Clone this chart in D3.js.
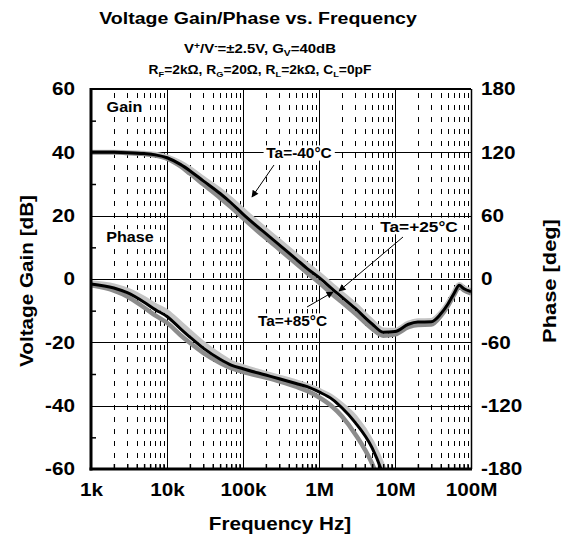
<!DOCTYPE html>
<html>
<head>
<meta charset="utf-8">
<script src="https://cdn.jsdelivr.net/npm/d3@7"></script>
<style>
  body { margin: 0; background: #fff; }
  text { font-family: "Liberation Sans", Arial, sans-serif; font-weight: bold; fill: #000; }
</style>
</head>
<body>
<script>
// chart values
var freqs = [1e3, 2e3, 3e3, 5e3, 7e3, 1e4, 1.5e4, 2e4, 3e4, 5e4, 7e4, 1e5, 2e5, 3e5, 5e5, 7e5,
             1e6, 1.5e6, 2e6, 3e6, 5e6, 7e6, 1e7, 1.5e7, 2e7, 3e7, 4e7, 5e7, 6e7, 7e7, 8e7, 1e8]

var gain25 = [40, 40, 39.9, 39.6, 39.2, 38.3, 36.2, 34.2, 31, 27, 24, 20.5, 14.3, 10.8, 6.3, 3.3,
              0.5, -3.2, -5.7, -9.3, -14.2, -16.8, -16.6, -14.3, -13.6, -13.5, -11, -7.8, -4.5, -2, -3, -4]
var gain85 = [40, 40, 39.8, 39.5, 39, 38, 35.6, 33.3, 29.9, 25.6, 22.6, 19.2, 12.9, 9.4, 4.9, 1.9,
              -1.1, -4.8, -7.3, -10.9, -15.7, -17.9, -17.5, -15.2, -14.5, -14.4, -11.7, -8.4, -5, -2.5, -3.5, -4.5]
var gainM40 = [40, 40, 39.9, 39.7, 39.4, 38.6, 36.7, 34.9, 31.8, 28, 25.1, 21.8, 15.5, 12, 7.5, 4.5,
               1.6, -2.1, -4.6, -8.2, -13.3, -16.1, -16.2, -13.9, -13.2, -13.1, -10.7, -7.5, -4.2, -1.7, -2.7, -3.7]

var phaseFreqs = [1e3, 2e3, 3e3, 5e3, 7e3, 1e4, 1.5e4, 2e4, 3e4, 5e4, 7e4, 1e5, 2e5, 3e5, 5e5, 7e5,
                  1e6, 1.5e6, 2e6, 3e6, 5e6, 7e6, 1e7]
var phase25 = [-4.7, -8.5, -13, -22, -29, -35.5, -47, -55, -65.5, -76, -81.5, -85, -91, -94.5, -99, -102,
               -107, -114, -122, -136, -160, -186, -225]
var phase85 = [-6, -11, -16.5, -27, -34.5, -41.5, -53, -60.5, -70, -79.5, -84.5, -88, -93.5, -97, -102, -106,
               -112, -121, -130, -147, -175, -203, -240]
var phaseM40 = [-3.5, -6.5, -10.5, -18.5, -25, -31, -42, -50, -61, -72.5, -79, -83, -89.5, -93, -97.5, -101,
                -105.5, -112, -119, -131, -155, -178, -210]

var decadeTicks = [1e3, 1e4, 1e5, 1e6, 1e7, 1e8]
var decadeLabels = ["1k", "10k", "100k", "1M", "10M", "100M"]
var gainTicks = [-60, -40, -20, 0, 20, 40, 60]
var gainMinor = [-50, -30, -10, 10, 30, 50]
var phaseTicks = [-180, -120, -60, 0, 60, 120, 180]

var width = 572, height = 538
var plot = {left: 91, right: 471, top: 89, bottom: 469}
var wide = 1.15   // the original lettering is a bit stretched sideways

var svg = d3.select("body").append("svg")
  .attr("width", width)
  .attr("height", height)

var x = d3.scaleLog().domain([1e3, 1e8]).range([plot.left, plot.right])
var yG = d3.scaleLinear().domain([-60, 60]).range([plot.bottom, plot.top])
var yP = d3.scaleLinear().domain([-180, 180]).range([plot.bottom, plot.top])

// minor frequencies 2..9 in each decade
var minorFreqs = []
decadeTicks.slice(0, 5).forEach(function(d) {
  for (var k = 2; k <= 9; k++) minorFreqs.push(d * k)
})

// grid
var grid = svg.append("g")
grid.selectAll("line.minor")
  .data(minorFreqs)
  .enter().append("line")
  .attr("x1", function(d) { return Math.round(x(d)) + 0.5 })
  .attr("x2", function(d) { return Math.round(x(d)) + 0.5 })
  .attr("y1", plot.top + 4)
  .attr("y2", plot.bottom)
  .attr("stroke", "#000")
  .attr("stroke-width", 1)
  .attr("stroke-dasharray", "5,7")

grid.selectAll("line.vmaj")
  .data(decadeTicks)
  .enter().append("line")
  .attr("x1", function(d) { return Math.round(x(d)) + 0.5 })
  .attr("x2", function(d) { return Math.round(x(d)) + 0.5 })
  .attr("y1", plot.top)
  .attr("y2", plot.bottom)
  .attr("stroke", "#000")
  .attr("stroke-width", 1)

grid.selectAll("line.hmaj")
  .data(gainTicks)
  .enter().append("line")
  .attr("x1", plot.left)
  .attr("x2", plot.right)
  .attr("y1", function(d) { return Math.round(yG(d)) + 0.5 })
  .attr("y2", function(d) { return Math.round(yG(d)) + 0.5 })
  .attr("stroke", "#000")
  .attr("stroke-width", 1)

// curves
svg.append("clipPath").attr("id", "clip")
  .append("rect")
  .attr("x", plot.left).attr("y", plot.top)
  .attr("width", plot.right - plot.left).attr("height", plot.bottom - plot.top)

var curves = svg.append("g").attr("clip-path", "url(#clip)")

var gainLine = d3.line()
  .x(function(d, i) { return x(freqs[i]) })
  .y(function(d) { return yG(d) })
  .curve(d3.curveMonotoneX)
var phaseLine = d3.line()
  .x(function(d, i) { return x(phaseFreqs[i]) })
  .y(function(d) { return yP(d) })
  .curve(d3.curveMonotoneX)

var series = [
  {g: gainM40, p: phaseM40, color: "#c4c4c4", w: 5},
  {g: gain85, p: phase85, color: "#8c8c8c", w: 4.5},
  {g: gain25, p: phase25, color: "#000", w: 3}
]
series.forEach(function(s) {
  curves.append("path").attr("d", gainLine(s.g))
    .attr("fill", "none").attr("stroke", s.color).attr("stroke-width", s.w)
  curves.append("path").attr("d", phaseLine(s.p))
    .attr("fill", "none").attr("stroke", s.color).attr("stroke-width", s.w)
})

// frame
svg.append("line").attr("x1", plot.left).attr("x2", plot.right)
  .attr("y1", plot.top).attr("y2", plot.top)
  .attr("stroke", "#000").attr("stroke-width", 2)
svg.append("line").attr("x1", plot.right + 0.5).attr("x2", plot.right + 0.5)
  .attr("y1", plot.top).attr("y2", plot.bottom)
  .attr("stroke", "#000").attr("stroke-width", 1.5)

// axes
var plain = function(d) { return String(d) }
var leftAxis = d3.axisLeft(yG).tickValues(gainTicks).tickSize(0).tickFormat(plain)
var leftMinor = d3.axisRight(yG).tickValues(gainMinor).tickSize(5).tickFormat("")
var rightAxis = d3.axisRight(yP).tickValues(phaseTicks).tickSize(0).tickFormat(plain)
var bottomAxis = d3.axisBottom(x).tickValues(decadeTicks).tickSize(0).tickPadding(14)
  .tickFormat(function(d, i) { return decadeLabels[i] })
var bottomMinor = d3.axisTop(x).tickValues(minorFreqs).tickSize(5).tickFormat("")

function styleAxis(g, dx) {
  g.selectAll("text")
    .style("font-size", "18px")
    .style("font-family", '"Liberation Sans", Arial, sans-serif')
    .attr("x", dx / wide)
    .attr("transform", "scale(" + wide + ",1)")
  g.selectAll(".tick line").attr("stroke", "#000").attr("stroke-width", 1.5)
  g.select(".domain").remove()
}

svg.append("g").attr("transform", "translate(" + plot.left + ",0)").call(leftAxis).call(styleAxis, -16)
svg.append("g").attr("transform", "translate(" + plot.left + ",0)").call(leftMinor).call(styleAxis, 0)
svg.append("g").attr("transform", "translate(" + plot.right + ",0)").call(rightAxis).call(styleAxis, 10)
svg.append("g").attr("transform", "translate(0," + plot.bottom + ")").call(bottomAxis).call(styleAxis, 0)
svg.append("g").attr("transform", "translate(0," + plot.bottom + ")").call(bottomMinor).call(styleAxis, 0)

svg.append("line").attr("x1", plot.left).attr("x2", plot.left)
  .attr("y1", plot.top - 1).attr("y2", plot.bottom + 1.5)
  .attr("stroke", "#000").attr("stroke-width", 3)
svg.append("line").attr("x1", plot.left - 1.5).attr("x2", plot.right + 1)
  .attr("y1", plot.bottom).attr("y2", plot.bottom)
  .attr("stroke", "#000").attr("stroke-width", 3)

// in-plot labels on white boxes
function boxLabel(txt, cx, cy, size, k) {
  var g = svg.append("g")
    .attr("transform", "translate(" + cx + "," + cy + ") scale(" + k + ",1)")
  var r = g.append("rect").attr("fill", "#fff")
  var t = g.append("text")
    .attr("text-anchor", "middle")
    .attr("dominant-baseline", "central")
    .style("font-size", size + "px")
    .text(txt)
  var b = t.node().getBBox()
  r.attr("x", b.x - 2.5).attr("y", b.y)
    .attr("width", b.width + 5).attr("height", b.height)
}
boxLabel("Gain", 124.5, 107, 14, 1.15)
boxLabel("Phase", 130, 237, 14, 1.15)
boxLabel("Ta=-40°C", 299, 153, 14, 1.1)
boxLabel("Ta=+25°C", 419, 226, 15, 1.15)
boxLabel("Ta=+85°C", 292.5, 321, 14, 1.1)

// arrows
svg.append("defs").append("marker")
  .attr("id", "arrow")
  .attr("viewBox", "0 0 10 10")
  .attr("refX", 9).attr("refY", 5)
  .attr("markerWidth", 9).attr("markerHeight", 7)
  .attr("markerUnits", "userSpaceOnUse")
  .attr("orient", "auto")
  .append("path").attr("d", "M0,0L10,5L0,10z").attr("fill", "#000")

var arrows = [
  [274, 165, 252, 197],
  [403, 237, 339, 291],
  [307, 307, 333, 292]
]
svg.selectAll("line.arrow")
  .data(arrows)
  .enter().append("line")
  .attr("x1", function(d) { return d[0] })
  .attr("y1", function(d) { return d[1] })
  .attr("x2", function(d) { return d[2] })
  .attr("y2", function(d) { return d[3] })
  .attr("stroke", "#000").attr("stroke-width", 1)
  .attr("marker-end", "url(#arrow)")

// titles
function label(tx, ty, rot, size) {
  return svg.append("text")
    .attr("transform", "translate(" + tx + "," + ty + ")" + (rot ? " rotate(-90)" : "") + " scale(" + wide + ",1)")
    .attr("text-anchor", "middle")
    .style("font-size", size + "px")
}

label(258, 24, false, 17).text("Voltage Gain/Phase vs. Frequency")

var sub1 = label(260, 53, false, 13)
sub1.append("tspan").text("V")
sub1.append("tspan").attr("dy", -4).style("font-size", "9px").text("+")
sub1.append("tspan").attr("dy", 4).text("/V")
sub1.append("tspan").attr("dy", -4).style("font-size", "9px").text("-")
sub1.append("tspan").attr("dy", 4).text("=±2.5V, G")
sub1.append("tspan").attr("dy", 3).style("font-size", "9px").text("V")
sub1.append("tspan").attr("dy", -3).text("=40dB")

var sub2 = label(260, 74, false, 12)
var parts = [["R", "F", "=2kΩ, "], ["R", "G", "=20Ω, "], ["R", "L", "=2kΩ, "], ["C", "L", "=0pF"]]
parts.forEach(function(p) {
  sub2.append("tspan").text(p[0])
  sub2.append("tspan").attr("dy", 3).style("font-size", "8px").text(p[1])
  sub2.append("tspan").attr("dy", -3).text(p[2])
})

label(33, 281, true, 18).text("Voltage Gain [dB]")
label(556, 281, true, 19).text("Phase [deg]")
label(280, 530, false, 18).text("Frequency Hz]")
</script>
</body>
</html>
